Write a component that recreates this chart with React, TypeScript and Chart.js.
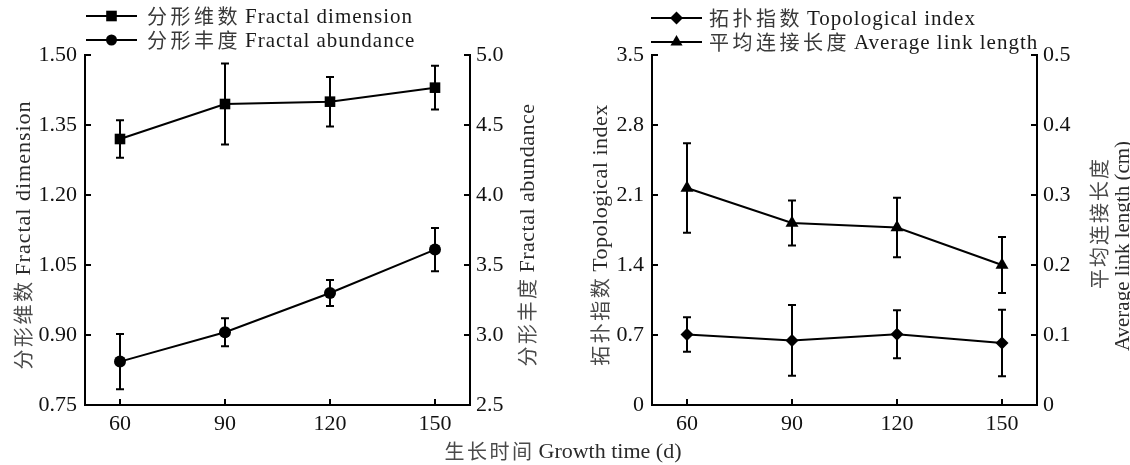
import React, { useEffect, useRef } from "react";
import { Chart, registerables } from "chart.js";

Chart.register(...registerables);

// ---------- data ----------
const growthTimes = [60, 90, 120, 150];
const xTickValues = [60, 90, 120, 150];
const xTickLabels = ["60", "90", "120", "150"];

const fractalDimension = [1.32, 1.395, 1.4, 1.43];
const fractalDimensionErr = [0.04, 0.087, 0.053, 0.047];
const fractalAbundance = [2.81, 3.02, 3.3, 3.61];
const fractalAbundanceErr = [0.197, 0.1, 0.092, 0.154];

const topologicalIndex = [0.705, 0.646, 0.707, 0.62];
const topologicalIndexErr = [0.172, 0.354, 0.24, 0.333];
const avgLinkLength = [0.31, 0.26, 0.2535, 0.2];
const avgLinkLengthErr = [0.064, 0.032, 0.0425, 0.04];

const fdTickValues = [0.75, 0.9, 1.05, 1.2, 1.35, 1.5];
const fdTickLabels = ["0.75", "0.90", "1.05", "1.20", "1.35", "1.50"];
const faTickValues = [2.5, 3.0, 3.5, 4.0, 4.5, 5.0];
const faTickLabels = ["2.5", "3.0", "3.5", "4.0", "4.5", "5.0"];
const tiTickValues = [0, 0.7, 1.4, 2.1, 2.8, 3.5];
const tiTickLabels = ["0", "0.7", "1.4", "2.1", "2.8", "3.5"];
const alTickValues = [0, 0.1, 0.2, 0.3, 0.4, 0.5];
const alTickLabels = ["0", "0.1", "0.2", "0.3", "0.4", "0.5"];

const labelFD = "分形维数 Fractal dimension";
const labelFA = "分形丰度 Fractal abundance";
const labelTI = "拓扑指数 Topological index";
const labelAL = "平均连接长度 Average link length";
const titleFD = "分形维数 Fractal dimension";
const titleFA = "分形丰度 Fractal abundance";
const titleTI = "拓扑指数 Topological index";
const titleAL1 = "平均连接长度";
const titleAL2 = "Average link length (cm)";
const titleX = "生长时间 Growth time (d)";

// ---------- drawing helpers ----------
const LATIN = '"Liberation Serif", "Times New Roman", serif';
const CJK = '"Noto Sans CJK SC", sans-serif';

type TextOpts = {
  size: number;
  spacing: number;
  color: string;
  cjkSize: number;
  cjkSpacing: number;
  cjkColor: string;
  gap: number;
};

function splitText(text: string) {
  const isCjkOnly = !/[A-Za-z]/.test(text);
  if (isCjkOnly) return { cjk: text, latin: "" };
  const idx = text.indexOf(" ");
  const first = idx < 0 ? text : text.slice(0, idx);
  const rest = idx < 0 ? "" : text.slice(idx + 1);
  const isCjk = /[\u3400-\u9fff]/.test(first);
  return isCjk ? { cjk: first, latin: rest } : { cjk: "", latin: text };
}

function measureMixed(ctx: CanvasRenderingContext2D, text: string, o: TextOpts) {
  const { cjk, latin } = splitText(text);
  ctx.save();
  let w = 0;
  if (cjk) {
    ctx.font = `${o.cjkSize}px ${CJK}`;
    (ctx as any).letterSpacing = `${o.cjkSpacing}px`;
    w += ctx.measureText(cjk).width;
    if (latin) w += o.gap;
  }
  if (latin) {
    ctx.font = `${o.size}px ${LATIN}`;
    (ctx as any).letterSpacing = `${o.spacing}px`;
    w += ctx.measureText(latin).width;
  }
  ctx.restore();
  return w;
}

function drawMixed(ctx: CanvasRenderingContext2D, text: string, x: number, y: number, o: TextOpts) {
  const { cjk, latin } = splitText(text);
  ctx.save();
  ctx.textBaseline = "middle";
  ctx.textAlign = "left";
  let cx = x;
  if (cjk) {
    ctx.font = `${o.cjkSize}px ${CJK}`;
    (ctx as any).letterSpacing = `${o.cjkSpacing}px`;
    ctx.fillStyle = o.cjkColor;
    ctx.fillText(cjk, cx, y);
    cx += ctx.measureText(cjk).width + (latin ? o.gap : 0);
  }
  if (latin) {
    ctx.font = `${o.size}px ${LATIN}`;
    (ctx as any).letterSpacing = `${o.spacing}px`;
    ctx.fillStyle = o.color;
    ctx.fillText(latin, cx, y + 1);
  }
  ctx.restore();
}

function drawMarker(ctx: CanvasRenderingContext2D, style: string, cx: number, cy: number, r: number) {
  ctx.save();
  ctx.fillStyle = "#000";
  ctx.beginPath();
  if (style === "rect") {
    const h = r * Math.SQRT1_2;
    ctx.rect(cx - h, cy - h, 2 * h, 2 * h);
  } else if (style === "circle") {
    ctx.arc(cx, cy, r, 0, Math.PI * 2);
  } else if (style === "rectRot") {
    ctx.moveTo(cx, cy - r);
    ctx.lineTo(cx + r, cy);
    ctx.lineTo(cx, cy + r);
    ctx.lineTo(cx - r, cy);
    ctx.closePath();
  } else if (style === "triangle") {
    const s = Math.sin((2 * Math.PI) / 3) * r;
    ctx.moveTo(cx, cy - r);
    ctx.lineTo(cx + s, cy + r / 2);
    ctx.lineTo(cx - s, cy + r / 2);
    ctx.closePath();
  }
  ctx.fill();
  ctx.restore();
}

const legendText: TextOpts = {
  size: 21,
  spacing: 1.0,
  color: "#1a1a1a",
  cjkSize: 20,
  cjkSpacing: 3.5,
  cjkColor: "#3a3a3a",
  gap: 4,
};
const titleText: TextOpts = {
  size: 22,
  spacing: 0.5,
  color: "#2a2a2a",
  cjkSize: 20,
  cjkSpacing: 2.5,
  cjkColor: "#4a4a4a",
  gap: 4,
};

// error bars through the library's scales
const errorBarPlugin = {
  id: "errorBars",
  beforeDatasetsDraw(chart: any) {
    const ctx: CanvasRenderingContext2D = chart.ctx;
    chart.data.datasets.forEach((ds: any, i: number) => {
      const meta = chart.getDatasetMeta(i);
      const yScale = chart.scales[ds.yAxisID];
      if (!ds.errors) return;
      ctx.save();
      ctx.strokeStyle = "#000";
      ctx.lineWidth = 2;
      meta.data.forEach((pt: any, j: number) => {
        const v = ds.data[j].y;
        const e = ds.errors[j];
        const yTop = yScale.getPixelForValue(v + e);
        const yBot = yScale.getPixelForValue(v - e);
        const x = pt.x;
        ctx.beginPath();
        ctx.moveTo(x, yTop);
        ctx.lineTo(x, yBot);
        ctx.moveTo(x - 4, yTop);
        ctx.lineTo(x + 4, yTop);
        ctx.moveTo(x - 4, yBot);
        ctx.lineTo(x + 4, yBot);
        ctx.stroke();
      });
      ctx.restore();
    });
  },
};

// legend with line + marker
const lineLegendPlugin = {
  id: "lineLegend",
  afterDraw(chart: any, _args: any, opts: any) {
    const ctx: CanvasRenderingContext2D = chart.ctx;
    chart.data.datasets.forEach((ds: any, i: number) => {
      const y = opts.rows[i];
      ctx.save();
      ctx.strokeStyle = "#000";
      ctx.lineWidth = 2;
      ctx.beginPath();
      ctx.moveTo(opts.x, y);
      ctx.lineTo(opts.x + opts.lineLen, y);
      ctx.stroke();
      ctx.restore();
      drawMarker(ctx, ds.pointStyle, opts.x + opts.lineLen / 2, y, ds.legendRadius);
      drawMixed(ctx, ds.label, opts.textX, y, legendText);
    });
  },
};

// rotated axis titles (reading bottom to top) and the shared x title
const titlesPlugin = {
  id: "axisTitles",
  afterDraw(chart: any, _args: any, opts: any) {
    const ctx: CanvasRenderingContext2D = chart.ctx;
    (opts.vertical || []).forEach((t: any) => {
      const o = { ...titleText, ...(t.style || {}) };
      const w = measureMixed(ctx, t.text, o);
      ctx.save();
      ctx.translate(t.x, t.y);
      ctx.rotate(-Math.PI / 2);
      drawMixed(ctx, t.text, -w / 2, 0, o);
      ctx.restore();
    });
    (opts.horizontal || []).forEach((t: any) => {
      const o = { ...titleText, ...(t.style || {}) };
      const w = measureMixed(ctx, t.text, o);
      drawMixed(ctx, t.text, t.x - w / 2, t.y, o);
    });
  },
};

function xScale() {
  return {
    type: "linear",
    position: "bottom",
    min: 50,
    max: 160,
    afterBuildTicks: (s: any) => {
      s.ticks = xTickValues.map((v) => ({ value: v }));
    },
    afterFit: (s: any) => {
      s.height = 60;
    },
    ticks: {
      callback: (_v: any, i: number) => xTickLabels[i],
      font: { family: "Liberation Serif", size: 22 },
      color: "#111",
      padding: 12,
      maxRotation: 0,
      autoSkip: false,
    },
    grid: { drawOnChartArea: false, drawTicks: true, tickLength: -6, color: "#000", lineWidth: 2 },
    border: { display: true, color: "#000", width: 2 },
  };
}

function yScale(position: string, min: number, max: number, values: number[], labels: string[], width: number, pad: number) {
  return {
    type: "linear",
    position,
    min,
    max,
    afterBuildTicks: (s: any) => {
      s.ticks = values.map((v) => ({ value: v }));
    },
    afterFit: (s: any) => {
      s.width = width;
    },
    ticks: {
      callback: (_v: any, i: number) => labels[i],
      font: { family: "Liberation Serif", size: 22 },
      color: "#111",
      padding: pad,
      autoSkip: false,
    },
    grid: { drawOnChartArea: false, drawTicks: true, tickLength: -6, color: "#000", lineWidth: 2 },
    border: { display: true, color: "#000", width: 2 },
  };
}

function series(label: string, values: number[], errors: number[], style: string, radius: number, legendRadius: number, axis: string) {
  return {
    label,
    data: growthTimes.map((x, i) => ({ x, y: values[i] })),
    errors,
    yAxisID: axis,
    borderColor: "#000",
    backgroundColor: "#000",
    borderWidth: 2,
    pointStyle: style,
    pointRadius: radius,
    pointBorderWidth: 0,
    pointBackgroundColor: "#000",
    pointBorderColor: "#000",
    legendRadius,
    tension: 0,
    clip: false,
  };
}

export default function App() {
  const leftRef = useRef<HTMLCanvasElement>(null);
  const rightRef = useRef<HTMLCanvasElement>(null);

  useEffect(() => {
    const common = {
      type: "line" as const,
      plugins: [errorBarPlugin, lineLegendPlugin, titlesPlugin],
    };
    const left = new Chart(leftRef.current!, {
      ...common,
      data: {
        datasets: [
          series(labelFD, fractalDimension, fractalDimensionErr, "rect", 7.5, 7.5, "yL") as any,
          series(labelFA, fractalAbundance, fractalAbundanceErr, "circle", 6, 5.5, "yR") as any,
        ],
      },
      options: {
        responsive: false,
        animation: false,
        devicePixelRatio: 1,
        layout: { padding: { left: 0, right: 600, top: 55, bottom: 0 } },
        scales: {
          x: xScale() as any,
          yL: yScale("left", 0.75, 1.5, fdTickValues, fdTickLabels, 85, 14) as any,
          yR: yScale("right", 2.5, 5.0, faTickValues, faTickLabels, 60, 12) as any,
        },
        plugins: {
          legend: { display: false },
          tooltip: { enabled: false },
          lineLegend: { x: 86, lineLen: 51, textX: 147, rows: [16, 40] },
          axisTitles: {
            vertical: [
              { text: titleFD, x: 23, y: 235, style: { spacing: 1 } },
              { text: titleFA, x: 527, y: 235 },
            ],
            horizontal: [{ text: titleX, x: 563, y: 451, style: { spacing: 0 } }],
          },
        } as any,
      },
    });
    const right = new Chart(rightRef.current!, {
      ...common,
      data: {
        datasets: [
          series(labelTI, topologicalIndex, topologicalIndexErr, "rectRot", 6.5, 6.5, "yL") as any,
          series(labelAL, avgLinkLength, avgLinkLengthErr, "triangle", 7.5, 7, "yR") as any,
        ],
      },
      options: {
        responsive: false,
        animation: false,
        devicePixelRatio: 1,
        layout: { padding: { left: 592, right: 33, top: 55, bottom: 0 } },
        scales: {
          x: xScale() as any,
          yL: yScale("left", 0, 3.5, tiTickValues, tiTickLabels, 60, 14) as any,
          yR: yScale("right", 0, 0.5, alTickValues, alTickLabels, 60, 12) as any,
        },
        plugins: {
          legend: { display: false },
          tooltip: { enabled: false },
          lineLegend: { x: 651, lineLen: 51, textX: 709, rows: [18, 42] },
          axisTitles: {
            vertical: [
              { text: titleTI, x: 600, y: 235 },
              { text: titleAL1, x: 1099, y: 223, style: { cjkSpacing: 2 } },
              { text: titleAL2, x: 1122, y: 246, style: { size: 21, spacing: 0 } },
            ],
          },
        } as any,
      },
    });
    return () => {
      left.destroy();
      right.destroy();
    };
  }, []);

  const canvasStyle: React.CSSProperties = { position: "absolute", left: 0, top: 0, width: 1130, height: 465 };
  return (
    <div style={{ position: "fixed", left: 0, top: 0, width: 1130, height: 465, background: "#fff" }}>
      <canvas ref={leftRef} width={1130} height={465} style={canvasStyle} />
      <canvas ref={rightRef} width={1130} height={465} style={canvasStyle} />
    </div>
  );
}
